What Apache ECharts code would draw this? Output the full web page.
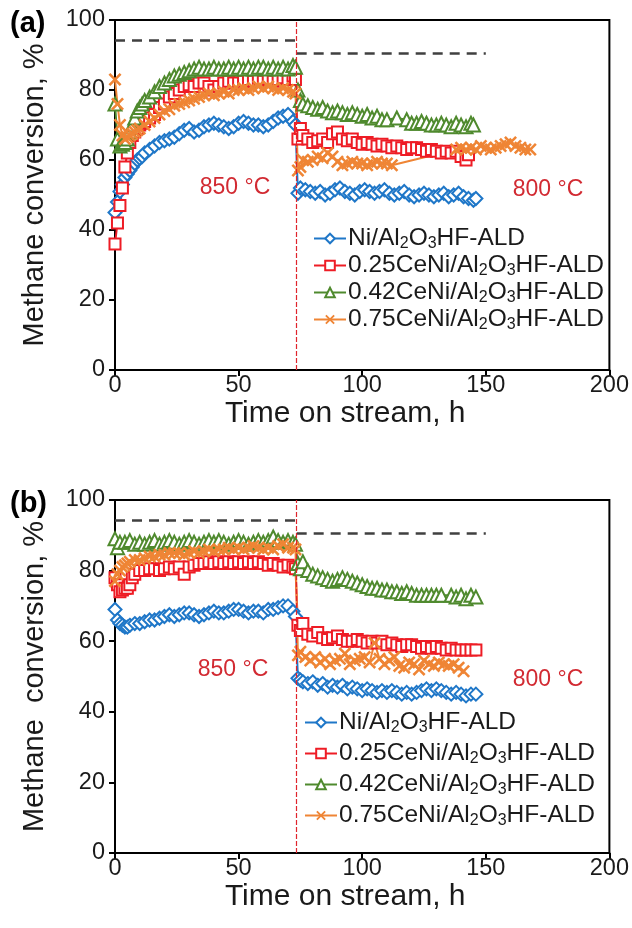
<!DOCTYPE html>
<html>
<head>
<meta charset="utf-8">
<script src="https://cdn.jsdelivr.net/npm/echarts@6/dist/echarts.min.js"></script>
<style>
html,body{margin:0;padding:0;background:#fff;}
#chart{width:632px;height:928px;}
</style>
</head>
<body>
<div id="chart"></div>
<script>
// ---- Data: [time on stream (h), methane conversion (%)] ----
const seriesNames = ['Ni/Al2O3HF-ALD', '0.25CeNi/Al2O3HF-ALD', '0.42CeNi/Al2O3HF-ALD', '0.75CeNi/Al2O3HF-ALD'];

// Panel (a)
const A_NI = [[0,45],[1,48],[2,51],[3,53],[4,55],[5,56],[6,57],[7,58],[8,59],[9,60],[10,60.5],[11,61],[12,62],[14,63],[16,64],[18,65],[20,65.5],[22,66],[24,66.5],[26,67.5],[28,68.5],[30,69],[32,68],[34,68.5],[36,69.5],[38,70],[40,70.5],[42,70],[44,69.5],[46,69],[48,69.5],[50,70.5],[52,71],[54,70.5],[56,70],[58,70],[60,69.5],[62,70],[64,71],[66,72],[68,72.5],[70,73],[72,71],[73,70],[74,50.5],[75,52],[77,51.5],[79,51],[81,50.5],[83,51],[85,50],[87,50.5],[89,51.5],[91,52],[93,51],[95,50.5],[97,50],[99,51],[101,51.5],[103,51],[105,50.5],[107,51],[109,51.5],[111,50.5],[113,50],[115,50.5],[117,51],[119,50],[121,49.5],[123,50],[125,50.5],[127,50],[129,49.5],[131,50],[133,50.5],[135,49.5],[137,50],[139,50.5],[141,49.5],[143,49],[145,48.5],[146,49]];
const A_CE25 = [[0,36],[1,42],[2,47],[3,52],[4,58],[5,62],[6,65],[7,67],[8,68],[9,69],[10,70],[11,70.5],[12,71],[14,72],[16,73],[18,75],[20,76],[22,78],[24,79],[26,80],[28,81],[30,81.5],[32,81],[34,82],[36,82],[38,81],[40,80],[42,81],[44,82],[46,82.5],[48,82],[50,82],[52,82.5],[54,83],[56,82.5],[58,83],[60,82.5],[62,83],[64,82.5],[66,83],[68,83.5],[70,83],[72,84],[73,83],[74,66],[75,69],[76,67],[78,66],[80,65],[82,65.5],[84,66],[86,65],[88,67.5],[90,68],[92,66],[94,65.5],[96,66],[98,65],[100,64.5],[102,65],[104,64.5],[106,64],[108,64.5],[110,64],[112,63.5],[114,64],[116,63.5],[118,63],[120,63.5],[122,63.5],[124,63],[126,62.5],[128,63],[130,62.5],[132,62],[134,62.5],[136,62],[138,62.5],[140,61],[142,60],[143,61.5]];
const A_CE42 = [[0,76],[1,66],[2,64],[3,64.5],[4,65],[5,66],[6,68],[7,70],[8,72],[9,74],[10,75],[11,76],[12,77],[14,78],[16,79.5],[18,81],[20,82],[22,83],[24,84],[26,84.5],[28,85],[30,85.5],[32,86],[34,86.5],[36,86],[38,86],[40,86.5],[42,86],[44,86],[46,86.5],[48,86],[50,86.5],[52,86],[54,86.5],[56,86],[58,86.5],[60,86.5],[62,86],[64,86.5],[66,86],[68,86.5],[70,86],[72,87],[73,86.5],[74,80],[75,77],[76,76],[78,75.5],[80,75],[82,74.5],[84,75],[86,74],[88,73.5],[90,74],[92,73.5],[94,73],[96,73.5],[98,73],[100,72.5],[102,73],[104,72],[106,72.5],[108,71.5],[110,71.5],[114,72],[118,71.5],[120,70.5],[122,70.5],[124,71],[126,70.5],[128,70],[130,70],[132,70.5],[134,70],[136,69.5],[138,70.5],[140,70],[142,69.5],[144,70.5],[145,70]];
const A_CE75 = [[0,83],[1,76],[2,70],[3,67],[4,66],[5,66.5],[6,67],[7,67.5],[8,68],[9,68.5],[10,69],[12,70],[14,71],[16,72],[18,73],[20,74],[22,74.5],[24,75.5],[26,76],[28,76.5],[30,77],[32,77.5],[34,78],[36,78.5],[38,79],[40,78.5],[42,79],[44,79.5],[46,79],[48,80],[50,80],[52,80.5],[54,80],[56,80.5],[58,81],[60,80.5],[62,81],[64,80.5],[66,80],[68,80.5],[70,80],[72,79.5],[73,79],[74,57],[75,58],[76,60],[78,59.5],[80,60],[82,61],[84,60.5],[86,62],[88,61],[90,59.5],[92,58.5],[94,59],[96,59.5],[98,59],[100,59],[102,58.5],[104,59],[106,59.5],[108,59],[110,59],[112,58.5],[138,63],[140,63.5],[142,63],[144,63.5],[146,63],[148,64],[150,63.5],[152,63],[154,63.5],[156,64],[158,64.5],[160,65],[162,64],[164,63.5],[166,63],[168,63]];

// Panel (b)
const B_NI = [[0,69],[1,66],[2,65],[3,64.5],[4,64],[5,64],[6,64.5],[8,65],[10,65],[12,65.5],[14,66],[16,66],[18,66.5],[20,67],[22,67.5],[24,67],[26,67.5],[28,68],[30,68],[32,67.5],[34,67],[36,67.5],[38,68],[40,68.5],[42,68],[44,68],[46,68.5],[48,69],[50,69],[52,68.5],[54,68],[56,68.5],[58,68.5],[60,68],[62,69],[64,69],[66,69.5],[68,70],[70,70],[72,68.5],[73,67],[74,49.5],[75,49],[76,48.5],[78,48],[80,48.5],[82,47.5],[84,48],[86,47],[88,47.5],[90,47],[92,47.5],[94,46.5],[96,47],[98,46.5],[100,46],[102,46.5],[104,46],[106,45.5],[108,46],[110,45.5],[112,46],[114,45.5],[116,45],[118,45.5],[120,45],[122,45.5],[124,46],[126,46.5],[128,46],[130,46.5],[132,46],[134,45.5],[136,45],[138,45.5],[140,45],[142,44.5],[144,45],[146,45]];
const B_CE25 = [[0,78],[1,76],[2,74],[3,74.5],[4,75],[5,75],[6,76],[7,78],[8,79],[10,80],[12,80],[14,80.5],[16,80.5],[18,80],[20,80.5],[22,81],[24,80.5],[26,81],[28,79],[30,81],[32,81.5],[34,82],[36,82],[38,82.5],[40,82],[42,82.5],[44,82],[46,82.5],[48,82],[50,82.5],[52,82],[54,82.5],[56,82],[58,82.5],[60,82],[62,81.5],[64,82],[66,81.5],[68,81],[70,81.5],[72,81],[73,80.5],[74,64.5],[75,63],[76,65],[78,62],[80,61.5],[82,62.5],[84,61],[86,60.5],[88,61],[90,61.5],[92,60.5],[94,60],[96,60],[98,60.5],[100,60],[102,59.5],[104,60],[106,59.5],[108,60],[110,59],[112,59.5],[114,59],[116,58.5],[118,59],[120,59],[122,58.5],[124,58],[126,58.5],[128,58],[130,58.5],[132,58],[134,57.5],[136,58],[138,57.5],[140,57.5],[142,57.5],[144,57.5],[146,57.5]];
const B_CE42 = [[0,89],[1,86.5],[2,88],[4,88],[6,88.5],[8,87.5],[10,88],[12,87.5],[14,88],[16,88.5],[18,87.5],[20,88],[22,88.5],[24,88],[26,87.5],[28,88],[30,88.5],[32,88],[34,87.5],[36,88],[38,88.5],[40,88],[42,88.5],[44,88],[46,87.5],[48,88],[50,88.5],[52,88],[54,87.5],[56,88],[58,88.5],[60,88],[62,88.5],[64,89.5],[66,88.5],[68,88],[70,88.5],[72,88],[73,87.5],[74,82],[75,80.5],[76,82.5],[78,80],[80,79],[82,78.5],[84,78],[86,77.5],[88,77],[90,77.5],[92,78],[94,77.5],[96,77],[98,76.5],[100,76],[102,75.5],[104,75],[106,75],[108,74.5],[110,74.5],[112,74],[114,74],[116,73.5],[118,74],[120,73.5],[122,73],[124,73],[126,73],[128,73],[130,73],[132,73],[136,73],[138,72.5],[140,73],[142,72],[144,73],[146,72.5]];
const B_CE75 = [[0,77],[1,79],[2,80],[3,81],[4,81.5],[5,82],[6,82.5],[8,83],[10,83],[12,83.5],[14,84],[16,84],[18,84.5],[20,84.5],[22,85],[24,85],[26,85],[28,84.5],[30,85],[32,85.5],[34,85],[36,85.5],[38,86],[40,85.5],[42,86],[44,86],[46,86.5],[48,86],[50,86.5],[52,86],[54,86.5],[56,87],[58,86.5],[60,86],[62,86.5],[64,86],[66,87],[68,87.5],[70,86.5],[72,86.5],[73,86],[74,56],[75,57],[77,55.5],[79,54.5],[81,55.5],[83,54],[85,55],[87,53.5],[89,54.5],[91,55],[93,56.5],[95,53.5],[97,54.5],[99,55],[101,55.5],[103,54],[105,59.5],[107,55],[109,53.5],[111,54.5],[113,55.5],[115,53],[117,52.5],[119,54],[121,53.5],[123,52],[125,54.5],[127,53.5],[129,53],[131,54],[133,53.5],[135,53],[137,53.5],[139,52.5],[141,51.5]];

// Reference lines (equilibrium conversion at each temperature, switch time)
const tSwitch = 73.5;
const eq850 = 94.3;
const eq800 = 90.5;
const eq800End = 150;

// Axis ticks
const xTicks = [0, 50, 100, 150, 200];
const yTicks = [0, 20, 40, 60, 80, 100];

const colors = ['#1f77c8', '#ee1c25', '#4f8a2e', '#ef8535'];
const xMark = 'path://M0,1.4L1.4,0L5,3.6L8.6,0L10,1.4L6.4,5L10,8.6L8.6,10L5,6.4L1.4,10L0,8.6L3.6,5Z';
const symbols = ['emptyDiamond', 'emptyRect', 'emptyTriangle', xMark];
const symbolSizes = [13, 11, 13, 13];

const chart = echarts.init(document.getElementById('chart'));
const FONT = 'Liberation Sans, Arial, sans-serif';

function richName(name) {
  const parts = name.split('Al2O3');
  return '{n|' + parts[0] + 'Al}{s|2}{n|O}{s|3}{n|' + parts[1] + '}';
}

const grids = [
  {left: 115, top: 20, width: 495, height: 350, show: true, borderColor: '#000', borderWidth: 2, backgroundColor: 'transparent'},
  {left: 115, top: 500, width: 495, height: 353, show: true, borderColor: '#000', borderWidth: 2, backgroundColor: 'transparent'}
];

function xAx(i, gap) {
  return {
    gridIndex: i, type: 'value', min: xTicks[0], max: xTicks[xTicks.length - 1], interval: 50,
    name: 'Time on stream, h', nameLocation: 'middle', nameGap: gap,
    nameTextStyle: {fontSize: 30, color: '#1a1a1a', fontFamily: FONT, padding: [0, 34, 0, 0]},
    axisLine: {show: true, lineStyle: {color: '#000', width: 2}},
    axisTick: {show: true, inside: false, length: 6, lineStyle: {color: '#000', width: 2}},
    axisLabel: {fontSize: 23.5, color: '#1a1a1a', fontFamily: FONT, margin: 4},
    splitLine: {show: false}
  };
}
function yAx(i, name) {
  return {
    gridIndex: i, type: 'value', min: yTicks[0], max: yTicks[yTicks.length - 1], interval: 20,
    name: name, nameLocation: 'middle', nameGap: 66,
    nameTextStyle: {fontSize: 29, color: '#1a1a1a', fontFamily: FONT},
    axisLine: {show: true, lineStyle: {color: '#000', width: 2}},
    axisTick: {show: true, inside: false, length: 6, lineStyle: {color: '#000', width: 2}},
    axisLabel: {fontSize: 23.5, color: '#1a1a1a', fontFamily: FONT, margin: 10},
    splitLine: {show: false}
  };
}

const dashGray = {color: '#404040', width: 2.5, type: [10, 7]};
const dashRed = {color: '#e0242c', width: 1.2, type: [5, 2]};
function refLines() {
  return {
    silent: true, symbol: 'none', label: {show: false},
    data: [
      [{coord: [0, eq850], lineStyle: dashGray}, {coord: [tSwitch, eq850]}],
      [{coord: [tSwitch, eq800], lineStyle: dashGray}, {coord: [eq800End, eq800]}],
      [{coord: [tSwitch, yTicks[0]], lineStyle: dashRed}, {coord: [tSwitch, yTicks[yTicks.length - 1]]}]
    ]
  };
}

const dataA = [A_NI, A_CE25, A_CE42, A_CE75];
const dataB = [B_NI, B_CE25, B_CE42, B_CE75];
const series = [];
[dataA, dataB].forEach(function (set, g) {
  set.forEach(function (d, k) {
    const s = {
      name: seriesNames[k], type: 'line', xAxisIndex: g, yAxisIndex: g, data: d,
      symbol: symbols[k], symbolSize: symbolSizes[k], showAllSymbol: true,
      lineStyle: {color: colors[k], width: 2},
      itemStyle: {color: colors[k], borderColor: colors[k], borderWidth: 2},
      emphasis: {disabled: true}, animation: false
    };
    if (k === 3) s.itemStyle = {color: colors[k], borderWidth: 0};
    if (k === 0) s.markLine = refLines();
    series.push(s);
  });
});

function legendAt(left, top, gap) {
  return {
    orient: 'vertical', left: left, top: top, itemGap: gap, itemWidth: 32, itemHeight: 12,
    data: seriesNames, selectedMode: false,
    formatter: richName,
    textStyle: {
      color: '#1a1a1a', fontFamily: FONT, padding: [0, 0, 0, -3],
      rich: {
        n: {fontSize: 24.5, lineHeight: 27, fontFamily: FONT, color: '#1a1a1a'},
        s: {fontSize: 16, lineHeight: 15, verticalAlign: 'bottom', fontFamily: FONT, color: '#1a1a1a'}
      }
    }
  };
}

const tempStyle = {fill: '#d22a32', fontSize: 23, fontFamily: FONT, textAlign: 'center', textVerticalAlign: 'middle'};

chart.setOption({
  backgroundColor: '#fff',
  animation: false,
  grid: grids,
  xAxis: [xAx(0, 20), xAx(1, 18)],
  yAxis: [yAx(0, 'Methane conversion, %'), yAx(1, 'Methane  conversion, %')],
  legend: [legendAt(308, 221, 1), legendAt(299, 705, 5)],
  series: series,
  graphic: [
    {type: 'text', left: 10, top: 9, style: {text: '(a)', fontSize: 29, fontWeight: 'bold', fontFamily: FONT, fill: '#000'}},
    {type: 'text', left: 10, top: 489, style: {text: '(b)', fontSize: 29, fontWeight: 'bold', fontFamily: FONT, fill: '#000'}},
    {type: 'text', x: 235, y: 188, style: Object.assign({text: '850 °C'}, tempStyle)},
    {type: 'text', x: 548, y: 190, style: Object.assign({text: '800 °C'}, tempStyle)},
    {type: 'text', x: 233, y: 670, style: Object.assign({text: '850 °C'}, tempStyle)},
    {type: 'text', x: 548, y: 680, style: Object.assign({text: '800 °C'}, tempStyle)}
  ]
});
</script>
</body>
</html>
